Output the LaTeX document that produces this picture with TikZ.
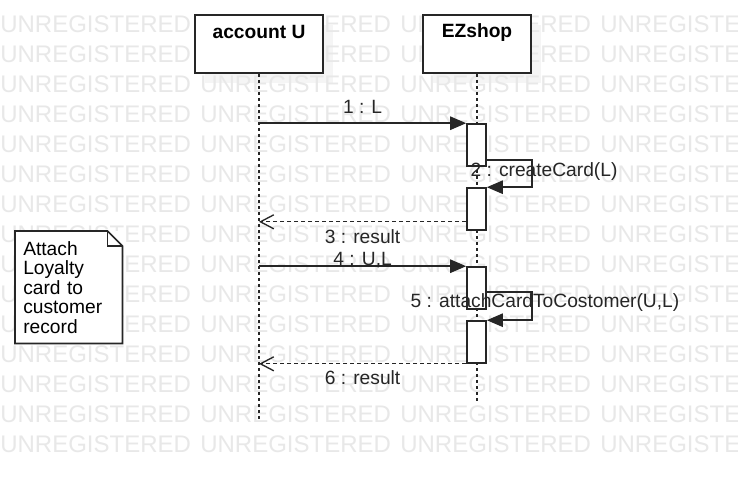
\documentclass[tikz,border=0pt]{standalone}
\usepackage{fontspec}
\setmainfont{Liberation Sans}
\usetikzlibrary{arrows.meta}

\begin{document}
\begin{tikzpicture}[x=0.75pt, y=-0.75pt, font=\fontsize{14.4}{14.6}\selectfont,
	watermark/.style={text=black!9, font=\fontsize{18}{18}\selectfont, inner sep=0pt, anchor=base west},
	objbox/.style={draw=black!85, line width=1.2pt, fill=white, minimum width=#1, minimum height=43.5pt, inner sep=0pt},
	objname/.style={anchor=center, yshift=-13.5pt, font=\fontsize{14.4}{14.6}\selectfont\bfseries},
	lifeline/.style={draw=black!85, line width=1pt, dash pattern=on 2.5pt off 2pt},
	actbox/.style={draw=black!85, line width=1.2pt, fill=white, minimum width=14.25pt, minimum height=31.5pt, inner sep=0pt},
	call/.style={draw=black!85, line width=1.2pt, -{Triangle[length=12pt, width=10pt]}},
	reply/.style={draw=black!85, line width=1pt, dash pattern=on 3pt off 2.25pt, -{Straight Barb[length=10pt, width=10.5pt]}},
	msg/.style={text=black!85, inner sep=0pt}]
	%background
	\fill[white] (0,0) rectangle (738,480);
	\useasboundingbox (0,0) rectangle (738,480);
	\fill[black!4] (205,25) rectangle (333,83);
	\fill[black!4] (433,25) rectangle (541,83);
	\foreach \r in {0,...,14}
	\foreach \c in {0,...,3}
	\node[watermark] (wm-\r-\c) at (200*\c, 32+30*\r) {UNREGISTERED};
	%objects
	\node[objbox=96pt, label={[objname]north:account U}] (acct) at (259,44) {};
	\node[objbox=81pt, label={[objname]north:EZshop}] (ezs) at (477,44) {};
	%lifelines
	\coordinate (acct end) at (259,420);
	\coordinate (ezs end) at (477,403);
	\draw[lifeline] (acct.south) -- (acct end);
	\draw[lifeline] (ezs.south) -- (ezs end);
	%activations
	\node[actbox] (act1) at (476.5,145) {};
	\node[actbox] (act2) at (476.5,209) {};
	\node[actbox] (act3) at (476.5,288) {};
	\node[actbox] (act4) at (476.5,342) {};
	%messages
	\draw[call] (act1.north west -| acct) -- (act1.north west)
	node[msg, midway, yshift=12pt] (m1) {1 : L};
	\draw[call] ([yshift=5.25pt]act1.south east) -- ++(45,0) |- (act2.north east);
	\node[msg] (m2) at (544,172) {2 : createCard(L)};
	\coordinate (r3) at ([yshift=6.75pt]act2.south west);
	\draw[reply] (r3) -- (r3 -| acct)
	node[msg, midway, yshift=-11.25pt] (m3) {3 : result};
	\draw[call] (act3.north west -| acct) -- (act3.north west)
	node[msg, midway, yshift=4.5pt] (m4) {4 : U,L};
	\draw[call] ([yshift=13.5pt]act3.south east) -- ++(45,0) |- (act4.north east);
	\node[msg] (m5) at (545,303) {5 : attachCardToCostomer(U,L)};
	\draw[reply] (act4.south west) -- (act4.south west -| acct)
	node[msg, midway, yshift=-10.5pt] (m6) {6 : result};
	%note
	\node[fill=white, anchor=north west, minimum width=80.25pt, minimum height=84pt,
	inner xsep=6pt, text width=68.25pt, align=left] (note) at (15,231)
	{Attach\\Loyalty\\card to\\customer\\record};
	\draw[draw=black!85, line width=1.2pt] (note.north west) -- ([xshift=-11.25pt]note.north east)
	-- ([yshift=-11.25pt]note.north east) -- (note.south east) -- (note.south west) -- cycle;
	\draw[draw=black!85, line width=1pt] ([xshift=-11.25pt]note.north east) |- ([yshift=-11.25pt]note.north east);
\end{tikzpicture}
\end{document}
